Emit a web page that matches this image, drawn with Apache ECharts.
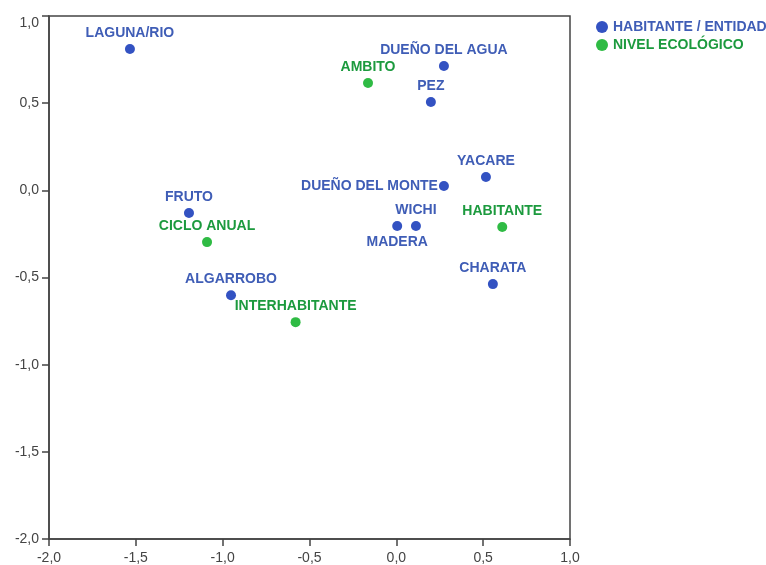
<!DOCTYPE html>
<html>
<head>
<meta charset="utf-8">
<script src="https://cdn.jsdelivr.net/npm/echarts@6/dist/echarts.min.js"></script>
<style>
  html, body { margin: 0; padding: 0; background: #fff; }
  #chart { width: 766px; height: 565px; }
</style>
</head>
<body>
<div id="chart"></div>
<script>
var habNames = ['LAGUNA/RIO', 'DUEÑO DEL AGUA', 'PEZ', 'YACARE', 'DUEÑO DEL MONTE', 'FRUTO', 'WICHI', 'MADERA', 'CHARATA', 'ALGARROBO'];
var habX = [-1.534, 0.274, 0.199, 0.516, 0.274, -1.194, 0.113, 0.005, 0.556, -0.952];
var habY = [0.811, 0.713, 0.507, 0.076, 0.025, -0.130, -0.205, -0.205, -0.538, -0.602];

var ecoNames = ['AMBITO', 'HABITANTE', 'CICLO ANUAL', 'INTERHABITANTE'];
var ecoX = [-0.163, 0.610, -1.090, -0.580];
var ecoY = [0.616, -0.210, -0.297, -0.756];

var legendNames = ['HABITANTE / ENTIDAD', 'NIVEL ECOLÓGICO'];
var axisTicks = [-2.0, -1.5, -1.0, -0.5, 0.0, 0.5, 1.0];

// label placement exceptions (default is above the point)
var labelPos = { 'DUEÑO DEL MONTE': 'left', 'MADERA': 'bottom' };

var blueDot = '#3352c2', blueText = '#3f5db6';
var greenDot = '#2fbb44', greenText = '#1c9a3e';

function build(names, xs, ys) {
    return names.map(function (n, i) {
        var pos = labelPos[n] || 'top';
        return {
            name: n,
            value: [xs[i], ys[i]],
            label: { position: pos, distance: pos === 'left' ? 1 : 4 }
        };
    });
}

function fmt(v) { return v.toFixed(1).replace('.', ','); }

var chart = echarts.init(document.getElementById('chart'));

var axisCommon = {
    type: 'value',
    min: axisTicks[0],
    max: axisTicks[axisTicks.length - 1],
    interval: 0.5,
    splitLine: { show: false },
    axisLine: { show: true, onZero: false, lineStyle: { color: '#444', width: 1.5 } },
    axisTick: { show: true, length: 7, lineStyle: { color: '#444', width: 1.5 } },
    axisLabel: {
        color: '#444',
        fontSize: 14,
        fontFamily: 'Liberation Sans',
        formatter: fmt
    }
};

var labelCommon = {
    show: true,
    formatter: '{b}',
    fontFamily: 'Liberation Sans',
    fontWeight: 'bold',
    fontSize: 14
};

chart.setOption({
    animation: false,
    grid: { left: 49, right: 196, top: 16, bottom: 26, show: true, borderColor: '#444', borderWidth: 1.5 },
    legend: {
        left: 591,
        top: 15,
        orient: 'vertical',
        icon: 'circle',
        itemWidth: 12,
        itemHeight: 12,
        itemGap: 4,
        textStyle: { fontFamily: 'Liberation Sans', fontWeight: 'bold', fontSize: 14 },
        data: [
            { name: legendNames[0], textStyle: { color: blueText } },
            { name: legendNames[1], textStyle: { color: greenText } }
        ]
    },
    xAxis: Object.assign({}, axisCommon, { axisLabel: Object.assign({}, axisCommon.axisLabel, { margin: 12 }) }),
    yAxis: Object.assign({}, axisCommon, {
        axisLabel: Object.assign({}, axisCommon.axisLabel, { margin: 10, verticalAlignMaxLabel: 'top' })
    }),
    series: [
        {
            name: legendNames[0],
            type: 'scatter',
            symbolSize: 10,
            itemStyle: { color: blueDot, opacity: 1 },
            label: Object.assign({ color: blueText }, labelCommon),
            data: build(habNames, habX, habY)
        },
        {
            name: legendNames[1],
            type: 'scatter',
            symbolSize: 10,
            itemStyle: { color: greenDot, opacity: 1 },
            label: Object.assign({ color: greenText }, labelCommon),
            data: build(ecoNames, ecoX, ecoY)
        }
    ]
});
</script>
</body>
</html>
